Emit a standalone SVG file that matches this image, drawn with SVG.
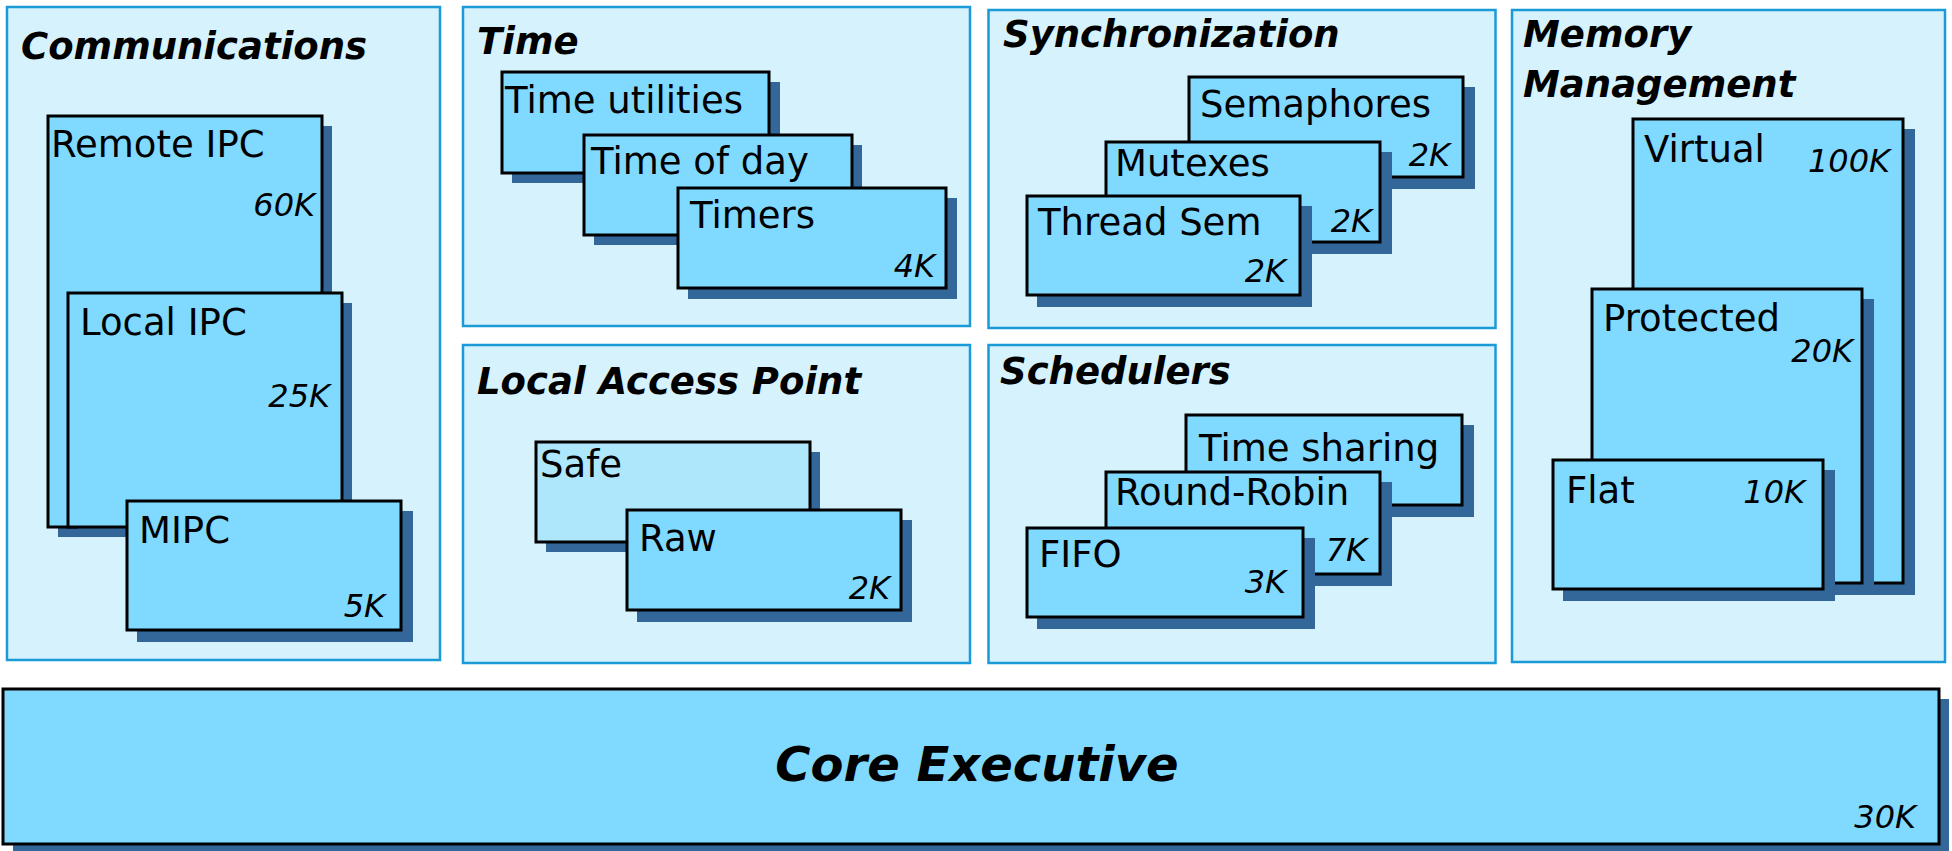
<svg xmlns="http://www.w3.org/2000/svg" width="1952" height="851" viewBox="0 0 1952 851">
  <defs>
    <style>
      .panel { fill: #d5f2fd; stroke: #1a9ad6; stroke-width: 2.5; }
      .box { fill: #80d9ff; stroke: #000; stroke-width: 3; }
      .box.pale { fill: #aee6fc; }
      .shadow { fill: #336699; }
      text { font-family: "DejaVu Sans", Verdana, sans-serif; fill: #000; }
      .title { font-size: 37px; font-weight: bold; font-style: italic; }
      .name { font-size: 37px; }
      .size { font-size: 32px; font-style: italic; text-anchor: end; }
      .core { font-size: 48px; font-weight: bold; font-style: italic; text-anchor: middle; }
    </style>
  </defs>

  <!-- Communications -->
  <g id="communications">
    <rect class="panel" x="7" y="7" width="433" height="653"/>
    <text class="title" x="21" y="59">Communications</text>
    <g id="remote-ipc">
      <rect class="shadow" x="58" y="126" width="274" height="411"/>
      <rect class="box" x="48" y="116" width="274" height="411"/>
      <text class="name" x="51" y="157">Remote IPC</text>
      <text class="size" x="315" y="216">60K</text>
    </g>
    <g id="local-ipc">
      <rect class="shadow" x="78" y="303" width="274" height="234"/>
      <rect class="box" x="68" y="293" width="274" height="234"/>
      <text class="name" x="80" y="335">Local IPC</text>
      <text class="size" x="330" y="407">25K</text>
    </g>
    <g id="mipc">
      <rect class="shadow" x="137" y="511" width="276" height="131"/>
      <rect class="box" x="127" y="501" width="274" height="129"/>
      <text class="name" x="139" y="543">MIPC</text>
      <text class="size" x="385" y="617">5K</text>
    </g>
  </g>

  <!-- Time -->
  <g id="time">
    <rect class="panel" x="463" y="7" width="507" height="319"/>
    <text class="title" x="477" y="54">Time</text>
    <g id="time-utilities">
      <rect class="shadow" x="512" y="82" width="268" height="101"/>
      <rect class="box" x="502" y="72" width="267" height="101"/>
      <text class="name" x="505" y="113">Time utilities</text>
    </g>
    <g id="time-of-day">
      <rect class="shadow" x="594" y="145" width="268" height="100"/>
      <rect class="box" x="584" y="135" width="268" height="100"/>
      <text class="name" x="591" y="174">Time of day</text>
    </g>
    <g id="timers">
      <rect class="shadow" x="688" y="198" width="269" height="101"/>
      <rect class="box" x="678" y="188" width="268" height="100"/>
      <text class="name" x="690" y="228">Timers</text>
      <text class="size" x="935" y="277">4K</text>
    </g>
  </g>

  <!-- Local Access Point -->
  <g id="local-access-point">
    <rect class="panel" x="463" y="345" width="507" height="318"/>
    <text class="title" x="477" y="394">Local Access Point</text>
    <g id="safe">
      <rect class="shadow" x="546" y="452" width="274" height="100"/>
      <rect class="box pale" x="536" y="442" width="274" height="100"/>
      <text class="name" x="540" y="477">Safe</text>
    </g>
    <g id="raw">
      <rect class="shadow" x="637" y="520" width="275" height="102"/>
      <rect class="box" x="627" y="510" width="274" height="100"/>
      <text class="name" x="639" y="551">Raw</text>
      <text class="size" x="890" y="599">2K</text>
    </g>
  </g>

  <!-- Synchronization -->
  <g id="synchronization">
    <rect class="panel" x="988.5" y="10" width="507" height="318"/>
    <text class="title" x="1003" y="47">Synchronization</text>
    <g id="semaphores">
      <rect class="shadow" x="1199" y="87" width="276" height="102"/>
      <rect class="box" x="1189" y="77" width="274" height="100"/>
      <text class="name" x="1200" y="117">Semaphores</text>
      <text class="size" x="1450" y="166">2K</text>
    </g>
    <g id="mutexes">
      <rect class="shadow" x="1116" y="152" width="276" height="102"/>
      <rect class="box" x="1106" y="142" width="274" height="100"/>
      <text class="name" x="1115" y="176">Mutexes</text>
      <text class="size" x="1372" y="232">2K</text>
    </g>
    <g id="thread-sem">
      <rect class="shadow" x="1037" y="206" width="275" height="101"/>
      <rect class="box" x="1027" y="196" width="273" height="99"/>
      <text class="name" x="1038" y="235">Thread Sem</text>
      <text class="size" x="1286" y="282">2K</text>
    </g>
  </g>

  <!-- Schedulers -->
  <g id="schedulers">
    <rect class="panel" x="988.5" y="345" width="507" height="318"/>
    <text class="title" x="1000" y="384">Schedulers</text>
    <g id="time-sharing">
      <rect class="shadow" x="1196" y="425" width="278" height="92"/>
      <rect class="box" x="1186" y="415" width="276" height="90"/>
      <text class="name" x="1199" y="461">Time sharing</text>
    </g>
    <g id="round-robin">
      <rect class="shadow" x="1116" y="482" width="276" height="104"/>
      <rect class="box" x="1106" y="472" width="274" height="102"/>
      <text class="name" x="1115" y="505">Round-Robin</text>
      <text class="size" x="1367" y="561">7K</text>
    </g>
    <g id="fifo">
      <rect class="shadow" x="1037" y="538" width="278" height="91"/>
      <rect class="box" x="1027" y="528" width="276" height="89"/>
      <text class="name" x="1039" y="567">FIFO</text>
      <text class="size" x="1286" y="593">3K</text>
    </g>
  </g>

  <!-- Memory Management -->
  <g id="memory-management">
    <rect class="panel" x="1512" y="10" width="433" height="652"/>
    <text class="title" x="1523" y="47">Memory</text>
    <text class="title" x="1523" y="97">Management</text>
    <g id="virtual">
      <rect class="shadow" x="1643" y="129" width="272" height="466"/>
      <rect class="box" x="1633" y="119" width="270" height="464"/>
      <text class="name" x="1644" y="162">Virtual</text>
      <text class="size" x="1890" y="172">100K</text>
    </g>
    <g id="protected">
      <rect class="shadow" x="1602" y="299" width="272" height="296"/>
      <rect class="box" x="1592" y="289" width="270" height="294"/>
      <text class="name" x="1603" y="331">Protected</text>
      <text class="size" x="1853" y="362">20K</text>
    </g>
    <g id="flat">
      <rect class="shadow" x="1563" y="470" width="272" height="131"/>
      <rect class="box" x="1553" y="460" width="270" height="129"/>
      <text class="name" x="1566" y="503">Flat</text>
      <text class="size" x="1805" y="503">10K</text>
    </g>
  </g>

  <!-- Core Executive -->
  <g id="core-executive">
    <rect class="shadow" x="13" y="699" width="1936" height="155"/>
    <rect class="box" x="3" y="689" width="1936" height="155"/>
    <text class="core" x="977" y="781">Core Executive</text>
    <text class="size" x="1916" y="828">30K</text>
  </g>

  <!-- no connectors in this diagram -->
  <g id="connectors"/>
</svg>
